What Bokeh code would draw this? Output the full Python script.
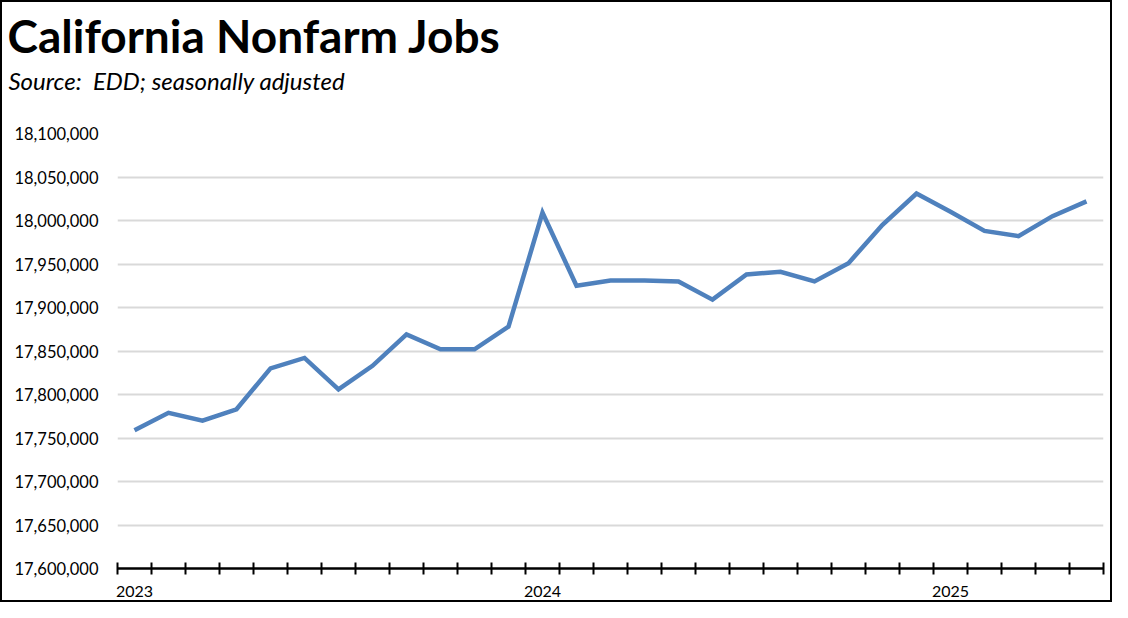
from bokeh.plotting import figure
from bokeh.models import FixedTicker, NumeralTickFormatter, Title, Range1d
from bokeh.embed import file_html
from bokeh.resources import INLINE

months = ["2023-01","2023-02","2023-03","2023-04","2023-05","2023-06","2023-07","2023-08","2023-09","2023-10","2023-11","2023-12",
          "2024-01","2024-02","2024-03","2024-04","2024-05","2024-06","2024-07","2024-08","2024-09","2024-10","2024-11","2024-12",
          "2025-01","2025-02","2025-03","2025-04","2025-05"]
jobs = [17759000, 17779000, 17770000, 17783000, 17830000, 17842000, 17806000, 17833000, 17869000, 17852000, 17852000, 17878000,
        18009000, 17925000, 17931000, 17931000, 17930000, 17909000, 17938000, 17941000, 17930000, 17951000, 17995000, 18031000,
        18010000, 17988000, 17982000, 18005000, 18022000]
year_labels = ["2023", "2024", "2025"]
y_ticks = [17600000, 17650000, 17700000, 17750000, 17800000, 17850000, 17900000, 17950000, 18000000, 18050000, 18100000]

FONT = "Lato"

x = [i + 0.5 for i in range(len(months))]
year_pos = [months.index(y + "-01") + 0.5 for y in year_labels]

p = figure(width=1112, height=602, output_backend="svg", toolbar_location=None,
           x_range=Range1d(0, len(months)), y_range=Range1d(17600000, 18100000),
           min_border_left=115, min_border_right=11, min_border_bottom=36, min_border_top=131)
p.title = None
p.styles = {"border": "2px solid black"}

p.line(x, jobs, line_color="#4F81BD", line_width=4.5, line_join="miter")

# spacer between subtitle and plot area
p.add_layout(Title(text=" ", text_font=FONT, text_font_size="1px", standoff=36), "above")
p.add_layout(Title(text="Source:\u00a0 EDD; seasonally adjusted", text_font=FONT, text_font_style="italic",
                   text_font_size="24px", text_color="black", offset=-109, standoff=0), "above")
p.add_layout(Title(text="California Nonfarm Jobs", text_font=FONT, text_font_style="bold",
                   text_font_size="46px", text_color="black", offset=-110, standoff=2), "above")

# x axis
p.xaxis.ticker = FixedTicker(ticks=year_pos, minor_ticks=list(range(len(months) + 1)))
p.xaxis.major_label_overrides = {pos: lab for pos, lab in zip(year_pos, year_labels)}
p.xaxis.major_tick_in = 0
p.xaxis.major_tick_out = 0
p.xaxis.minor_tick_in = 6
p.xaxis.minor_tick_out = 6
p.xaxis.minor_tick_line_color = "black"
p.xaxis.minor_tick_line_width = 2
p.xaxis.axis_line_color = "black"
p.xaxis.axis_line_width = 2.5
p.xaxis.major_label_standoff = 11
p.xaxis.major_label_text_font = FONT
p.xaxis.major_label_text_font_size = "16px"
p.xaxis.major_label_text_color = "black"

# y axis
p.yaxis.ticker = FixedTicker(ticks=y_ticks)
p.yaxis.formatter = NumeralTickFormatter(format="0,0")
p.yaxis.axis_line_color = None
p.yaxis.major_tick_line_color = None
p.yaxis.minor_tick_line_color = None
p.yaxis.major_label_standoff = 13
p.yaxis.major_label_text_font = FONT
p.yaxis.major_label_text_font_size = "16.5px"
p.yaxis.major_label_text_color = "black"

p.xgrid.grid_line_color = None
p.ygrid.ticker = FixedTicker(ticks=y_ticks[1:])
p.ygrid.grid_line_color = "#D9D9D9"
p.ygrid.grid_line_width = 2
p.outline_line_color = None

open("out.html", "w").write(file_html(p, INLINE))
